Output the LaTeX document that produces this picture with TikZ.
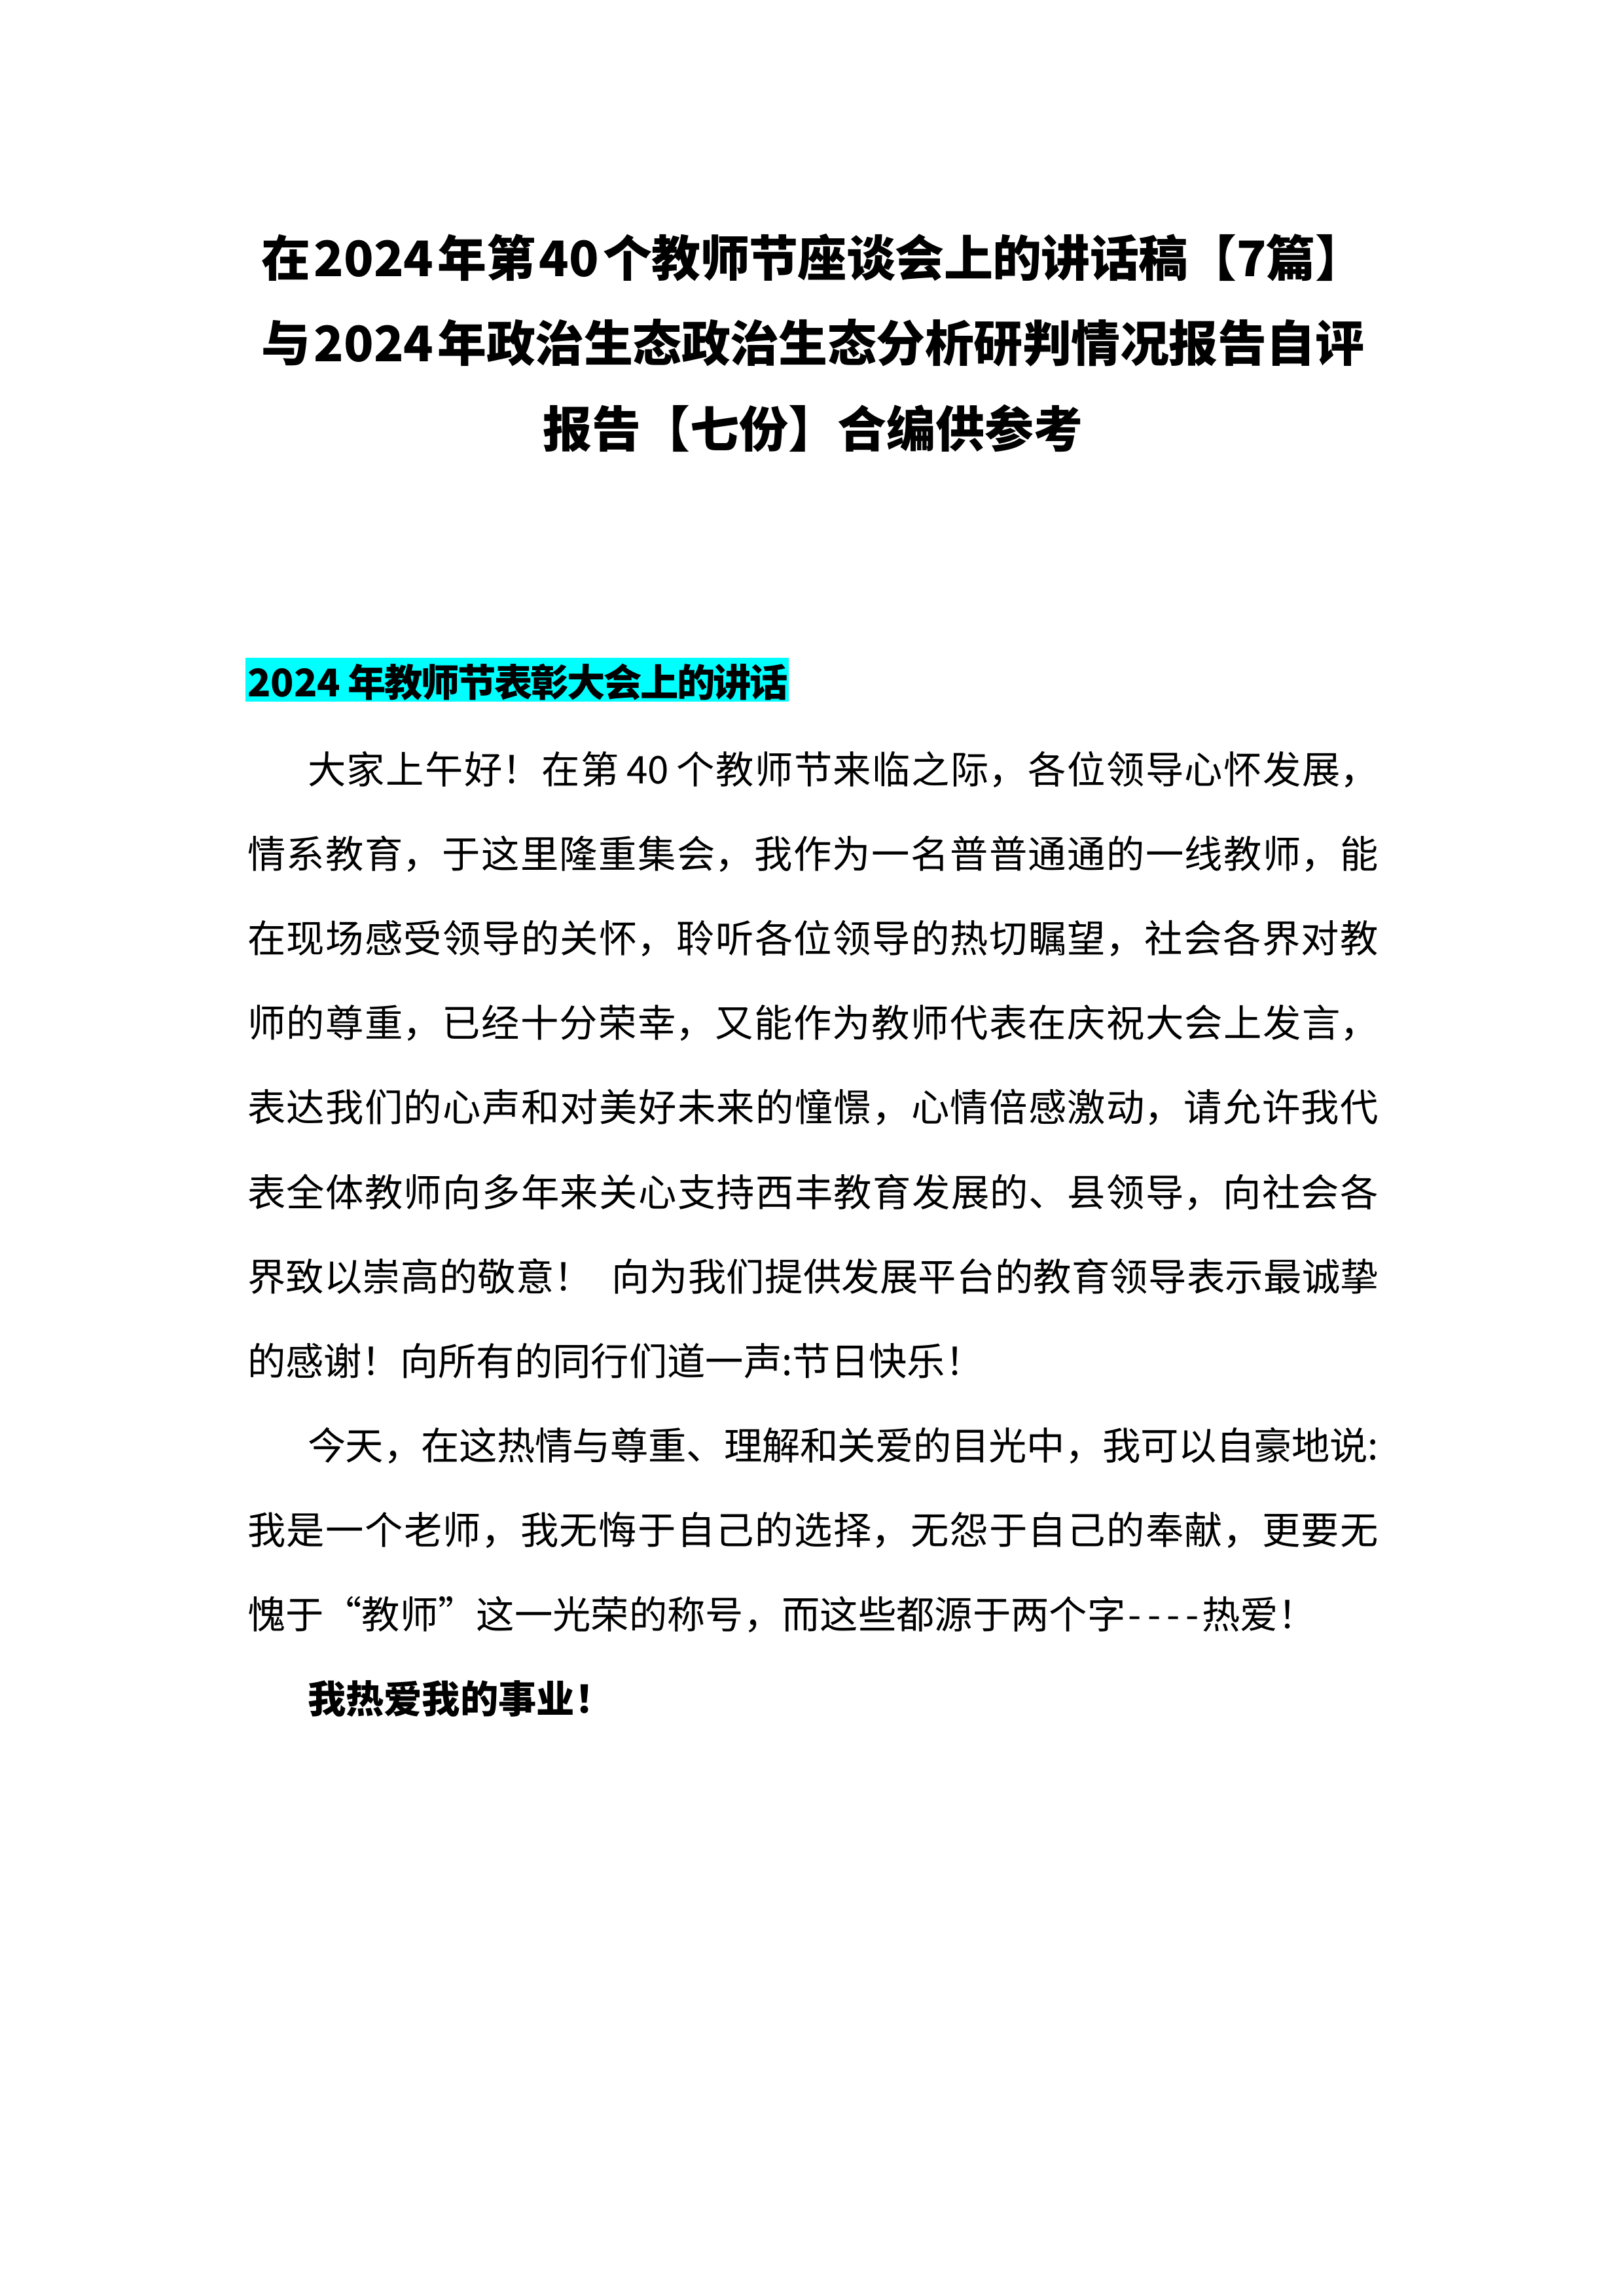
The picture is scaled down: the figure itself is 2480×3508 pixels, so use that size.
\documentclass[tikz,border=0pt]{standalone}
\usepackage{fontspec}
\setmainfont{Noto Sans CJK SC}
\XeTeXlinebreaklocale "zh"
\XeTeXlinebreakskip=0pt plus 6pt minus 1pt
\definecolor{hl}{RGB}{0,255,255}
\newlength\px \setlength\px{0.24003pt}
\newcommand\jl[2]{\parbox[t]{#1\px}{\tolerance=10000\hbadness=10000\hfuzz=20pt\parfillskip=0pt\parindent=0pt\leftskip=0pt\rightskip=0pt #2\par}}
\newcommand\hy{\makebox[0.5em]{-}}
\newcommand\dsp{\hspace{0.2em}}
\newcommand\tsp{\hspace{0.08em}}
\newcommand\tskip{\XeTeXlinebreakskip=0pt plus 6pt minus 3pt\relax}
\begin{document}
\begin{tikzpicture}[x=0.24003pt,y=-0.24003pt,
  txt/.style={inner sep=0pt, outer sep=0pt, anchor=base west, font=\fontsize{14}{14}\selectfont},
  txtb/.style={txt, font=\fontsize{14}{14}\selectfont\bfseries},
  ttl/.style={inner sep=0pt, outer sep=0pt, anchor=base west, font=\fontsize{18}{18}\selectfont\bfseries}]
\useasboundingbox[fill=white] (0,0) rectangle (2480,3508);
% title
\node[ttl] (t1) at (399,422) {\jl{1685}{\tskip 在\tsp 2024\tsp 年第\tsp 40\tsp 个教师节座谈会上的讲话稿【7篇】}};
\node[ttl] (t2) at (399,552) {\jl{1685}{\tskip 与\tsp 2024\tsp 年政治生态政治生态分析研判情况报告自评}};
\node[ttl, anchor=base] (t3) at (1242,683) {报告【七份】合编供参考};
% heading
\fill[hl] (375,1005) rectangle (1205,1072);
\node[txtb] (h) at (378,1064) {\jl{826}{\tskip 2024\dsp 年教师节表彰大会上的讲话}};
% body
\node[txt] (l1) at (378,1197) {\jl{1728}{\hspace*{92\px}大家上午好！在第\dsp 40\dsp 个教师节来临之际，各位领导心怀发展，}};
\node[txt] (l2) at (378,1326) {\jl{1728}{情系教育，于这里隆重集会，我作为一名普普通通的一线教师，能}};
\node[txt] (l3) at (378,1455) {\jl{1728}{在现场感受领导的关怀，聆听各位领导的热切瞩望，社会各界对教}};
\node[txt] (l4) at (378,1584) {\jl{1728}{师的尊重，已经十分荣幸，又能作为教师代表在庆祝大会上发言，}};
\node[txt] (l5) at (378,1713) {\jl{1728}{表达我们的心声和对美好未来的憧憬，心情倍感激动，请允许我代}};
\node[txt] (l6) at (378,1843) {\jl{1728}{表全体教师向多年来关心支持西丰教育发展的、县领导，向社会各}};
\node[txt] (l7) at (378,1972) {\jl{1728}{界致以崇高的敬意！\hspace{0.5em}向为我们提供发展平台的教育领导表示最诚挚}};
\node[txt] (l8) at (378,2101) {的感谢！向所有的同行们道一声:节日快乐！};
\node[txt] (l9) at (378,2230) {\jl{1728}{\hspace*{92\px}今天，在这热情与尊重、理解和关爱的目光中，我可以自豪地说:}};
\node[txt] (l10) at (378,2359) {\jl{1728}{我是一个老师，我无悔于自己的选择，无怨于自己的奉献，更要无}};
\node[txt] (l11) at (378,2488) {愧于“教师”这一光荣的称号，而这些都源于两个字\hy\hy\hy\hy 热爱！};
\node[txtb] (l12) at (470,2617) {我热爱我的事业！};
\end{tikzpicture}
\end{document}
